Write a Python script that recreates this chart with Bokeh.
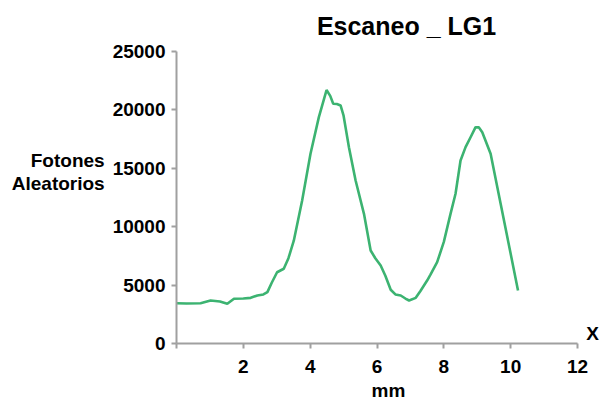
from bokeh.plotting import figure
from bokeh.models import Range1d, FixedTicker, Label
from bokeh.embed import file_html
from bokeh.resources import INLINE

# data (mm, photon counts)
mm = [0, 0.3, 0.72, 1.02, 1.3, 1.52, 1.72, 2.0, 2.22, 2.42, 2.6, 2.72, 2.85, 3.01, 3.21, 3.35,
      3.51, 3.76, 4.01, 4.26, 4.49, 4.6, 4.69, 4.8, 4.91, 5.0, 5.16, 5.36, 5.61, 5.81, 5.95,
      6.11, 6.25, 6.41, 6.55, 6.71, 6.85, 6.96, 7.16, 7.3, 7.5, 7.6, 7.8, 8.0, 8.2, 8.35, 8.5,
      8.65, 8.8, 8.95, 9.05, 9.15, 9.4, 9.7, 10.0, 10.22]
fotones = [3450, 3420, 3450, 3680, 3600, 3400, 3830, 3850, 3910, 4110, 4200, 4400, 5200, 6100,
           6400, 7300, 8800, 12240, 16240, 19380, 21700, 21200, 20520, 20500, 20380, 19500,
           16810, 13960, 11100, 7960, 7300, 6680, 5800, 4600, 4200, 4110, 3850, 3680, 3910,
           4500, 5390, 5900, 6960, 8700, 11100, 12820, 15670, 16810, 17660, 18520, 18500,
           18090, 16240, 11960, 7680, 4540]
x_ticks = [0, 2, 4, 6, 8, 10, 12]
y_ticks = [0, 5000, 10000, 15000, 20000, 25000]
x_max, y_max = 12, 25000
title_text = "Escaneo _ LG1"
y_label = "Fotones\nAleatorios"
x_label = "mm"
x_end_label = "X"

FONT = "Liberation Sans"
# frame: x=0 at canvas px 176, x=12 at 577; y=0 at canvas px 343, y=25000 at 51
PX_PER_MM = (577 - 176) / 12.0
PX_PER_UNIT = (343 - 51) / 25000.0
FRAME_W, FRAME_H = 600 - 176, 343

p = figure(frame_width=FRAME_W, frame_height=FRAME_H, output_backend="svg",
           toolbar_location=None,
           x_range=Range1d(0, FRAME_W / PX_PER_MM), y_range=Range1d(0, FRAME_H / PX_PER_UNIT),
           min_border_left=176, min_border_right=0, min_border_top=0, min_border_bottom=10)
p.outline_line_color = None
p.xgrid.visible = False
p.ygrid.visible = False
p.background_fill_color = "white"

p.line(mm, fotones, line_color="#3cb371", line_width=2.6)

for ax in (p.xaxis, p.yaxis):
    ax.axis_line_color = "#a0a0a0"
    ax.axis_line_width = 2
    ax.major_tick_line_color = "#a0a0a0"
    ax.major_tick_line_width = 2
    ax.minor_tick_line_color = None
    ax.major_tick_in = 0
    ax.major_tick_out = 5
    ax.major_label_text_font = FONT
    ax.major_label_text_font_style = "bold"
    ax.major_label_text_font_size = "19px"
    ax.major_label_text_color = "black"
    ax.axis_label_text_font = FONT
    ax.axis_label_text_font_style = "bold"
    ax.axis_label_text_font_size = "19px"
    ax.axis_label_text_color = "black"

p.xaxis.bounds = (0, x_max)
p.yaxis.bounds = (0, y_max)
p.xaxis.ticker = FixedTicker(ticks=x_ticks)
p.yaxis.ticker = FixedTicker(ticks=y_ticks)
p.xaxis.major_label_overrides = {0: ""}
p.xaxis.major_label_standoff = 11
p.yaxis.major_label_standoff = 6

p.xaxis.axis_label = x_label
p.xaxis.axis_label_standoff = 4
p.yaxis.axis_label = y_label
p.yaxis.axis_label_orientation = "horizontal"
p.yaxis.axis_label_standoff = 5
p.yaxis.axis_label_text_align = "center"
p.yaxis.axis_label_text_line_height = 1.1

def lab(sx, sy, t, size="19px"):
    # sx, sy: canvas pixels from top-left, converted to data units
    p.add_layout(Label(x=(sx - 176) / PX_PER_MM, y=(343 - sy) / PX_PER_UNIT, text=t,
                       text_font=FONT, text_font_style="bold",
                       text_font_size=size, text_align="center", text_baseline="middle",
                       text_color="black"))

lab(406, 25, title_text, size="25px")
lab(592, 333, x_end_label, size="19px")

open("out.html", "w").write(file_html(p, INLINE))
